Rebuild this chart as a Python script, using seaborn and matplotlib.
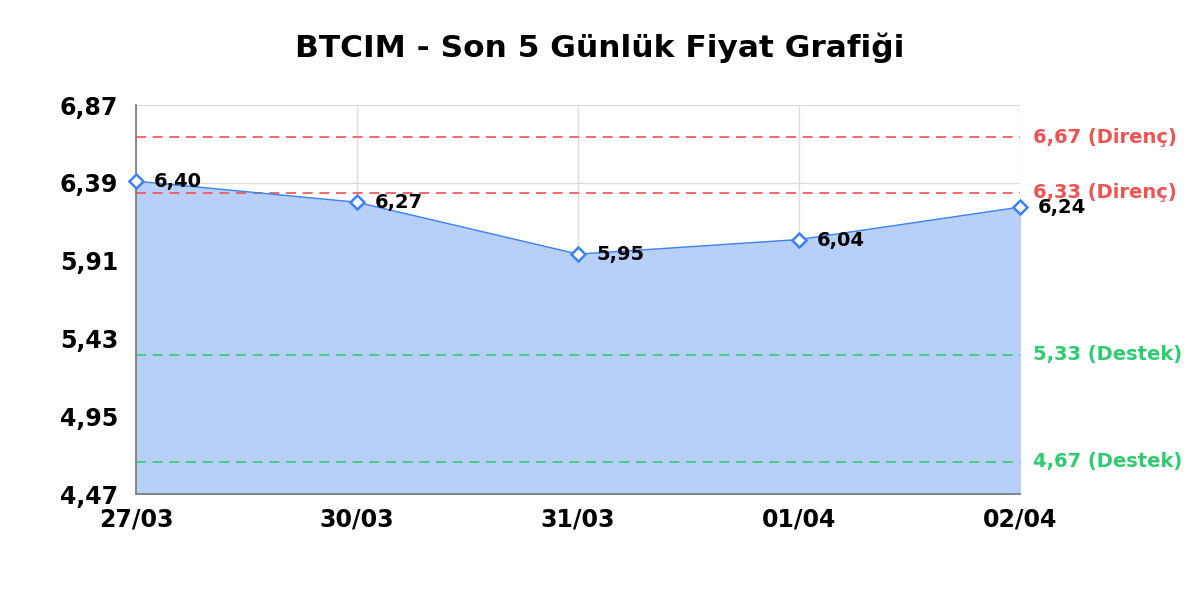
import numpy as np
import pandas as pd
import seaborn as sns
import matplotlib
matplotlib.use('Agg')
import matplotlib.pyplot as plt
from matplotlib.ticker import FuncFormatter, FixedLocator
import matplotlib.transforms as mtransforms

dates = ['27/03', '30/03', '31/03', '01/04', '02/04']
prices = [6.40, 6.27, 5.95, 6.04, 6.24]
resistance = [6.67, 6.33]
support = [5.33, 4.67]
yticks = [4.47, 4.95, 5.43, 5.91, 6.39, 6.87]
title = 'BTCIM - Son 5 Günlük Fiyat Grafiği'

df = pd.DataFrame({'idx': range(len(dates)), 'date': dates, 'price': prices})

sns.set_style('white')
plt.rcParams['font.family'] = ['DejaVu Sans']
plt.rcParams['text.color'] = 'black'
plt.rcParams['xtick.color'] = 'black'
plt.rcParams['ytick.color'] = 'black'

fig = plt.figure(figsize=(12, 6), dpi=100)
ax = fig.add_axes([136/1200, 1-494/600, (1020-136)/1200, (494-105)/600])

line_c = '#3b82f6'
fill_c = '#b8cff8'
red = '#f05252'
green = '#2ecc71'

ax.fill_between(df['idx'], df['price'], yticks[0], color=fill_c, zorder=1)
sns.lineplot(data=df, x='idx', y='price', ax=ax, color=line_c, linewidth=1.0,
             marker='D', markersize=7.5, markerfacecolor='white',
             markeredgecolor=line_c, markeredgewidth=1.8, zorder=4, clip_on=False)

for i, p in enumerate(prices):
    ax.annotate(f'{p:.2f}'.replace('.', ','), (i, p), xytext=(13, -0.5),
                textcoords='offset points', ha='left', va='center',
                fontsize=14, fontweight='bold', color='black', zorder=5)

trans = mtransforms.blended_transform_factory(ax.transAxes, ax.transData)
for v in resistance:
    ax.axhline(v, color=red, linestyle=(0, (6, 4)), linewidth=1.2, zorder=3)
    ax.text(1.015, v, f'{v:.2f}'.replace('.', ',') + ' (Direnç)', transform=trans,
            ha='left', va='center', fontsize=14, fontweight='bold', color=red)
for v in support:
    ax.axhline(v, color=green, linestyle=(0, (6, 4)), linewidth=1.2, zorder=3)
    ax.text(1.015, v, f'{v:.2f}'.replace('.', ',') + ' (Destek)', transform=trans,
            ha='left', va='center', fontsize=14, fontweight='bold', color=green)

ax.set_xlim(0, len(dates) - 1)
ax.set_ylim(yticks[0], yticks[-1])
ax.set_xticks(range(len(dates)))
ax.set_xticklabels(dates)
ax.yaxis.set_major_locator(FixedLocator(yticks))
ax.yaxis.set_major_formatter(FuncFormatter(lambda v, _: f'{v:.2f}'.replace('.', ',')))
ax.tick_params(axis='y', labelsize=17, length=0, pad=13)
ax.tick_params(axis='x', labelsize=17, length=0, pad=10)
for lab in ax.get_xticklabels() + ax.get_yticklabels():
    lab.set_fontweight('bold')
ax.grid(True, color='#dddddd', linewidth=1, zorder=0)
ax.set_axisbelow(True)
ax.set_xlabel('')
ax.set_ylabel('')
for s in ['top', 'right']:
    ax.spines[s].set_visible(False)
for s in ['left', 'bottom']:
    ax.spines[s].set_color('#777777')
    ax.spines[s].set_linewidth(1.2)

fig.text(0.5, 1-48/600, title, ha='center', va='center', fontsize=22.5,
         fontweight='bold', color='black')

fig.savefig('out.png', dpi=100)
